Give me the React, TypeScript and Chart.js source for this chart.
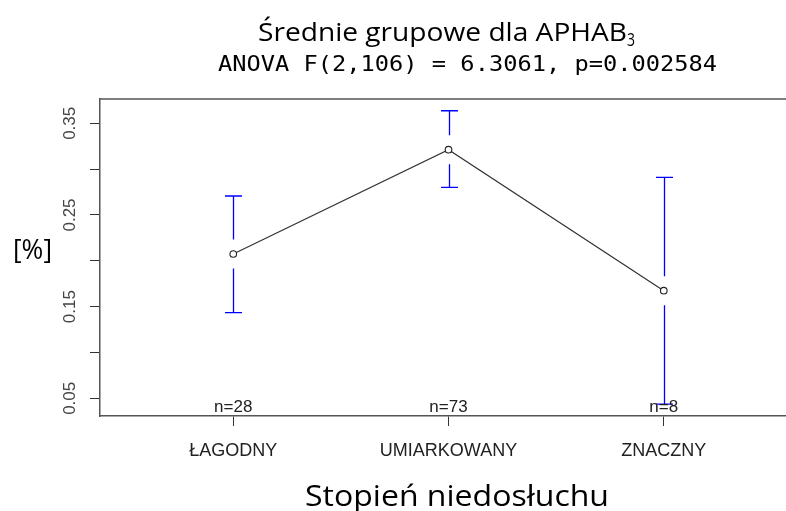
import { useEffect, useRef } from 'react';
import { Chart, registerables } from 'chart.js';

Chart.register(...registerables);

const categories = ['ŁAGODNY', 'UMIARKOWANY', 'ZNACZNY'];
const means = [0.2074, 0.3212, 0.1674];
const ciLower = [0.1434, 0.2802, 0.0437];
const ciUpper = [0.2707, 0.3637, 0.2911];
const nLabels = ['n=28', 'n=73', 'n=8'];
const yTicks = [0.05, 0.1, 0.15, 0.2, 0.25, 0.3, 0.35];
const yTickLabels = ['0.05', '', '0.15', '', '0.25', '', '0.35'];

const titleMain = 'Średnie grupowe dla APHAB';
const titleSub = '3';
const subtitle = 'ANOVA F(2,106) = 6.3061, p=0.002584';
const xTitle = 'Stopień niedosłuchu';
const yTitle = '[%]';

function drawFit(ctx: CanvasRenderingContext2D, text: string, font: string, left: number, right: number, baseline: number) {
  ctx.save();
  ctx.font = font;
  ctx.textAlign = 'left';
  ctx.textBaseline = 'alphabetic';
  const w = ctx.measureText(text).width;
  ctx.translate(left, baseline);
  ctx.scale((right - left) / w, 1);
  ctx.fillText(text, 0, 0);
  ctx.restore();
}

export default function App() {
  const ref = useRef<HTMLCanvasElement>(null);

  useEffect(() => {
    const canvas = ref.current!;
    const rplot = {
      id: 'rplot',
      afterDatasetsDraw(chart: any) {
        const ctx: CanvasRenderingContext2D = chart.ctx;
        const xs = chart.scales.x;
        const ys = chart.scales.y;
        const gap = 14.5;
        const cap = 8.5;
        ctx.save();
        ctx.strokeStyle = '#0000ff';
        ctx.lineWidth = 1.3;
        for (let i = 0; i < means.length; i++) {
          const x = Math.round(xs.getPixelForValue(i)) + 0.5;
          const ym = ys.getPixelForValue(means[i]);
          const yh = ys.getPixelForValue(ciUpper[i]);
          const yl = ys.getPixelForValue(ciLower[i]);
          ctx.beginPath();
          if (ym - gap > yh) {
            ctx.moveTo(x, yh);
            ctx.lineTo(x, ym - gap);
          }
          if (ym + gap < yl) {
            ctx.moveTo(x, ym + gap);
            ctx.lineTo(x, yl);
          }
          ctx.moveTo(x - cap, yh);
          ctx.lineTo(x + cap, yh);
          ctx.moveTo(x - cap, yl);
          ctx.lineTo(x + cap, yl);
          ctx.stroke();
        }
        ctx.restore();
      },
      afterDraw(chart: any) {
        const ctx: CanvasRenderingContext2D = chart.ctx;
        const area = chart.chartArea;
        const xs = chart.scales.x;
        const ys = chart.scales.y;
        ctx.save();
        // top frame line
        ctx.strokeStyle = '#555';
        ctx.lineWidth = 1.5;
        ctx.beginPath();
        ctx.moveTo(area.left, area.top);
        ctx.lineTo(area.right, area.top);
        ctx.stroke();

        ctx.fillStyle = '#222';
        // n labels
        ctx.font = '17px "Liberation Sans", Arial, sans-serif';
        ctx.textAlign = 'center';
        ctx.textBaseline = 'alphabetic';
        nLabels.forEach((t, i) => {
          ctx.fillText(t, xs.getPixelForValue(i), area.bottom - 4.5);
        });
        // x tick labels
        ctx.font = '18px "Liberation Sans", Arial, sans-serif';
        categories.forEach((t, i) => {
          ctx.fillText(t, xs.getPixelForValue(i), area.bottom + 40);
        });
        // y tick labels (rotated)
        ctx.fillStyle = '#444';
        ctx.font = '17px "Liberation Sans", Arial, sans-serif';
        yTicks.forEach((v, i) => {
          const lbl = yTickLabels[i];
          if (!lbl) return;
          ctx.save();
          ctx.translate(area.left - 25, ys.getPixelForValue(v));
          ctx.rotate(-Math.PI / 2);
          ctx.fillText(lbl, 0, 0);
          ctx.restore();
        });

        ctx.fillStyle = '#000';
        drawFit(ctx, titleMain, '26px "Open Sans", sans-serif', 258, 627, 41);
        drawFit(ctx, titleSub, '19px "Open Sans", sans-serif', 627, 635, 46);
        drawFit(ctx, subtitle, '21px "DejaVu Sans Mono", monospace', 218, 717, 71);
        drawFit(ctx, xTitle, '30px "Open Sans", sans-serif', 305, 609, 506);
        drawFit(ctx, yTitle, '27px "Open Sans", sans-serif', 13, 52, 259);
        ctx.restore();
      },
    };

    const axisCommon = {
      ticks: { display: false },
      grid: { drawOnChartArea: false, drawTicks: true, tickLength: 10, color: '#333', lineWidth: 1 },
      border: { display: true, color: '#555', width: 1.5 },
    };

    const chart = new Chart(canvas, {
      type: 'line',
      data: {
        datasets: [
          {
            data: means.map((m, i) => ({ x: i, y: m })),
            borderColor: '#333',
            borderWidth: 1.2,
            pointRadius: 3.3,
            pointBorderColor: '#222',
            pointBackgroundColor: '#fff',
            pointBorderWidth: 1.1,
            fill: false,
            tension: 0,
          },
        ],
      },
      options: {
        animation: false,
        responsive: false,
        events: [],
        layout: { padding: { top: 99, left: 0, right: 0, bottom: 0 } },
        plugins: { legend: { display: false }, tooltip: { enabled: false }, title: { display: false } },
        scales: {
          x: {
            type: 'linear',
            min: -0.619,
            max: 2.572,
            afterBuildTicks: (s: any) => {
              s.ticks = categories.map((_, i) => ({ value: i }));
            },
            afterFit: (s: any) => {
              s.height = 95;
            },
            ...axisCommon,
          },
          y: {
            type: 'linear',
            min: 0.0307,
            max: 0.3765,
            afterBuildTicks: (s: any) => {
              s.ticks = yTicks.map((v) => ({ value: v }));
            },
            afterFit: (s: any) => {
              s.width = 100;
            },
            ...axisCommon,
          },
        },
      } as any,
      plugins: [rplot],
    });
    return () => chart.destroy();
  }, []);

  return (
    <div style={{ position: 'absolute', left: 0, top: 0, width: 786, height: 511, background: '#fff', overflow: 'hidden' }}>
      <canvas ref={ref} width={792} height={511} style={{ display: 'block', width: 792, height: 511 }} />
    </div>
  );
}
